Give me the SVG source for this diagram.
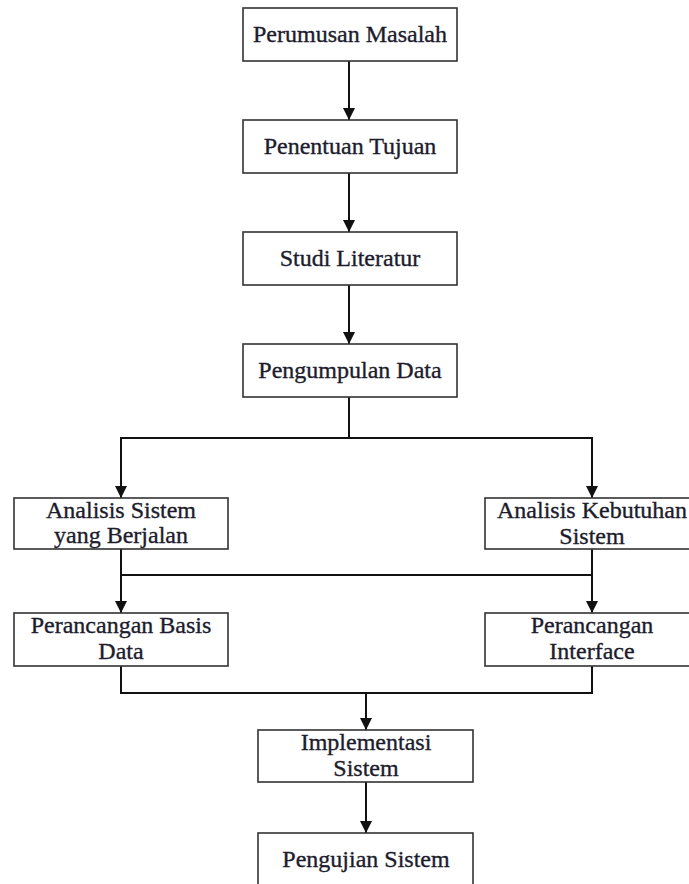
<svg xmlns="http://www.w3.org/2000/svg" width="689" height="884" viewBox="0 0 689 884">
<style>
.box{fill:#fff;stroke:#333;stroke-width:1.6}
.t{font-family:"Liberation Serif","Times New Roman",serif;font-size:24px;fill:#1c1c2c;stroke:#1c1c2c;stroke-width:0.35;text-anchor:middle}
.c{fill:none;stroke:#111;stroke-width:2}
</style>
<defs>
<marker id="ah" markerWidth="13" markerHeight="12" refX="12" refY="6" orient="auto" markerUnits="userSpaceOnUse">
<path d="M0,0 L12,6 L0,12 Z" fill="#111"/>
</marker>
</defs>
<rect width="689" height="884" fill="#fff"/>
<g id="connectors">
<line class="c" x1="349" y1="61" x2="349" y2="120" marker-end="url(#ah)"/>
<line class="c" x1="349" y1="173" x2="349" y2="232" marker-end="url(#ah)"/>
<line class="c" x1="349" y1="285" x2="349" y2="344" marker-end="url(#ah)"/>
<line class="c" x1="349" y1="397" x2="349" y2="438"/>
<polyline class="c" points="121,498 121,438 592,438 592,498" marker-end="url(#ah)"/>
<line class="c" x1="121" y1="438" x2="121" y2="498" marker-end="url(#ah)"/>
<line class="c" x1="121" y1="549" x2="121" y2="613" marker-end="url(#ah)"/>
<line class="c" x1="592" y1="549" x2="592" y2="613" marker-end="url(#ah)"/>
<line class="c" x1="121" y1="575" x2="592" y2="575"/>
<polyline class="c" points="121,666 121,693 592,693 592,666"/>
<line class="c" x1="366" y1="693" x2="366" y2="730" marker-end="url(#ah)"/>
<line class="c" x1="366" y1="782" x2="366" y2="833" marker-end="url(#ah)"/>
</g>
<g id="n1"><rect class="box" x="243" y="8" width="214" height="53"/><text class="t" x="350" y="42">Perumusan Masalah</text></g>
<g id="n2"><rect class="box" x="243" y="120" width="214" height="53"/><text class="t" x="350" y="154">Penentuan Tujuan</text></g>
<g id="n3"><rect class="box" x="243" y="232" width="214" height="53"/><text class="t" x="350" y="266">Studi Literatur</text></g>
<g id="n4"><rect class="box" x="243" y="344" width="214" height="53"/><text class="t" x="350" y="378">Pengumpulan Data</text></g>
<g id="n5"><rect class="box" x="14" y="498" width="214" height="51"/><text class="t" x="121" y="518">Analisis Sistem</text><text class="t" x="121" y="543">yang Berjalan</text></g>
<g id="n6"><rect class="box" x="485" y="498" width="214" height="51"/><text class="t" x="592" y="518">Analisis Kebutuhan</text><text class="t" x="592" y="544">Sistem</text></g>
<g id="n7"><rect class="box" x="14" y="613" width="214" height="53"/><text class="t" x="121" y="633">Perancangan Basis</text><text class="t" x="121" y="659">Data</text></g>
<g id="n8"><rect class="box" x="485" y="613" width="214" height="53"/><text class="t" x="592" y="633">Perancangan</text><text class="t" x="592" y="659">Interface</text></g>
<g id="n9"><rect class="box" x="258" y="730" width="215" height="52"/><text class="t" x="366" y="750">Implementasi</text><text class="t" x="366" y="776">Sistem</text></g>
<g id="n10"><rect class="box" x="258" y="833" width="215" height="60"/><text class="t" x="366" y="867">Pengujian Sistem</text></g>
</svg>
